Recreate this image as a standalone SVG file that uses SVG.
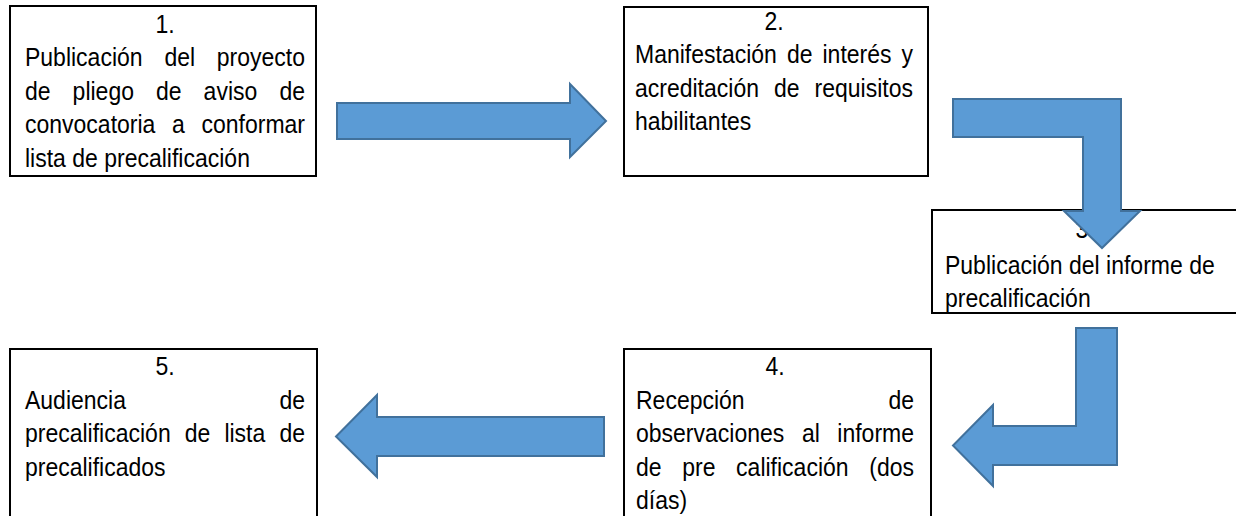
<svg xmlns="http://www.w3.org/2000/svg" width="1236" height="516" viewBox="0 0 1236 516">
<style>
.box{fill:#fff;stroke:#000;stroke-width:2}
.t{font-family:"Liberation Sans",Arial,sans-serif;font-size:25px;fill:#000}
.m{text-anchor:middle}
.e{text-anchor:end}
.arr{fill:#5B9BD5;stroke:#41719C;stroke-width:2;stroke-linejoin:miter}
</style>
<rect width="1236" height="516" fill="#fff"/>
<g id="n1">
<rect class="box" x="10" y="6" width="306" height="170"/>
<g transform="scale(0.92,1)">
<text class="t m" x="179.35" y="33">1.</text>
<text class="t" x="27.17" y="66.5">Publicación</text><text class="t" x="178.7" y="66.5">del</text><text class="t e" x="331.52" y="66.5">proyecto</text>
<text class="t" x="27.17" y="100">de</text><text class="t" x="78.91" y="100">pliego</text><text class="t" x="169.57" y="100">de</text><text class="t" x="221.3" y="100">aviso</text><text class="t e" x="331.52" y="100">de</text>
<text class="t" x="27.17" y="133.5">convocatoria</text><text class="t" x="186.96" y="133.5">a</text><text class="t e" x="331.52" y="133.5">conformar</text>
<text class="t" x="27.17" y="167">lista de precalificación</text>
</g>
</g>
<g id="n2">
<rect class="box" x="624" y="7" width="304" height="169"/>
<g transform="scale(0.92,1)">
<text class="t m" x="841.3" y="30">2.</text>
<text class="t" x="690.22" y="63.5">Manifestación</text><text class="t" x="855.33" y="63.5">de</text><text class="t" x="894.02" y="63.5">interés</text><text class="t e" x="992.39" y="63.5">y</text>
<text class="t" x="690.22" y="97">acreditación</text><text class="t" x="841.3" y="97">de</text><text class="t e" x="992.39" y="97">requisitos</text>
<text class="t" x="690.22" y="130.5">habilitantes</text>
</g>
</g>
<g id="n3">
<rect class="box" x="932" y="210" width="340" height="103"/>
<g transform="scale(0.92,1)">
<text class="t m" x="1179.35" y="238">3.</text>
<text class="t" x="1027.17" y="274">Publicación del informe de</text>
<text class="t" x="1027.17" y="307.5">precalificación</text>
</g>
</g>
<g id="n4">
<rect class="box" x="624" y="349" width="307" height="200"/>
<g transform="scale(0.92,1)">
<text class="t m" x="842.39" y="375">4.</text>
<text class="t" x="691.3" y="409">Recepción</text><text class="t e" x="993.48" y="409">de</text>
<text class="t" x="691.3" y="442.5">observaciones</text><text class="t" x="871.63" y="442.5">al</text><text class="t e" x="993.48" y="442.5">informe</text>
<text class="t" x="691.3" y="476">de</text><text class="t" x="741.63" y="476">pre</text><text class="t" x="800.11" y="476">calificación</text><text class="t e" x="993.48" y="476">(dos</text>
<text class="t" x="691.3" y="509.5">días)</text>
</g>
</g>
<g id="n5">
<rect class="box" x="10" y="349" width="307" height="200"/>
<g transform="scale(0.92,1)">
<text class="t m" x="179.35" y="375">5.</text>
<text class="t" x="27.17" y="409">Audiencia</text><text class="t e" x="331.52" y="409">de</text>
<text class="t" x="27.17" y="442.5">precalificación</text><text class="t" x="200.87" y="442.5">de</text><text class="t" x="243.91" y="442.5">lista</text><text class="t e" x="331.52" y="442.5">de</text>
<text class="t" x="27.17" y="476">precalificados</text>
</g>
</g>
<g id="connectors">
<polygon class="arr" points="337,103 570,103 570,84 606,121 570,157 570,139 337,139"/>
<polygon class="arr" points="953,99 1121,99 1121,211 1140,211 1102,248 1064,211 1083,211 1083,137 953,137"/>
<polygon class="arr" points="1076,328 1117,328 1117,465 993,465 993,486 953,445.5 993,405 993,426 1076,426"/>
<polygon class="arr" points="604,417 377,417 377,395 336,436.5 377,477 377,456 604,456"/>
</g>
</svg>
